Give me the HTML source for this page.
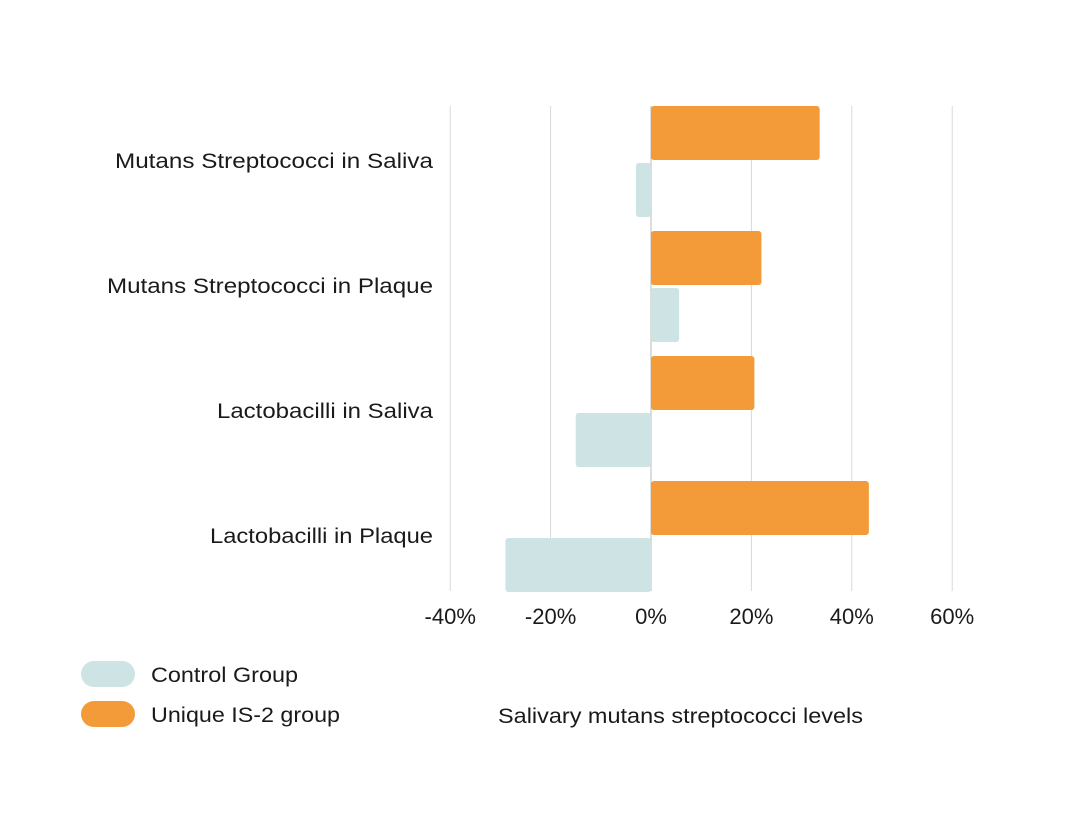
<!DOCTYPE html>
<html><head><meta charset="utf-8"><style>
html,body{margin:0;padding:0;background:#fff;}
svg text{font-family:"Liberation Sans",sans-serif;fill:#1a1a1a;}
</style></head><body>
<svg id="chart" width="1080" height="810" viewBox="0 0 1080 810" xmlns="http://www.w3.org/2000/svg">
<g id="grid"></g>
<g id="bars"></g>
<g id="ylabels"></g>
<g id="xlabels"></g>
<text x="498" y="723" font-size="21" textLength="365" lengthAdjust="spacingAndGlyphs">Salivary mutans streptococci levels</text>
<g>
  <rect x="81" y="661" width="54" height="26" rx="13" fill="#cde3e4"/>
  <text x="151" y="682" font-size="21" textLength="147" lengthAdjust="spacingAndGlyphs">Control Group</text>
  <rect x="81" y="701" width="54" height="26" rx="13" fill="#f29b38"/>
  <text x="151" y="722" font-size="21" textLength="189" lengthAdjust="spacingAndGlyphs">Unique IS-2 group</text>
</g>
</svg>
<script>
const categories = ["Mutans Streptococci in Saliva","Mutans Streptococci in Plaque","Lactobacilli in Saliva","Lactobacilli in Plaque"];
const labelWidths = [318,326,216,223];
const controlValues = [-3, 5.6, -15, -29];
const is2Values = [33.6, 22, 20.6, 43.4];
const ticks = [-40,-20,0,20,40,60];
const tickLabels = ["-40%","-20%","0%","20%","40%","60%"];

const NS="http://www.w3.org/2000/svg";
const x0=651, pxPer=5.02, plotTop=106, band=125;
function xs(v){return x0+v*pxPer;}
function mk(t,a,p){const e=document.createElementNS(NS,t);for(const k in a)e.setAttribute(k,a[k]);p.appendChild(e);return e;}
const grid=document.getElementById('grid'),bars=document.getElementById('bars'),yl=document.getElementById('ylabels'),xl=document.getElementById('xlabels');
ticks.forEach((t,i)=>{
  const l=mk('line',{x1:xs(t),x2:xs(t),y1:plotTop,y2:591,stroke:t===0?'#bbbbbb':'#d9d9d9','stroke-width':1},grid);
  
  
  const tx=mk('text',{x:xs(t),y:624,'font-size':22,'text-anchor':'middle'},xl);
  tx.textContent=tickLabels[i];
  
  
});
function bar(v,y,h,fill){
  const x=Math.min(xs(0),xs(v)),w=Math.abs(xs(v)-xs(0));
  return mk('rect',{x:x,y:y,width:w,height:h,rx:3,fill:fill},bars);
}
categories.forEach((c,i)=>{
  const y=plotTop+i*band;
  const o=bar(is2Values[i],y,54,'#f29b38');
  
  
  const b=bar(controlValues[i],y+57,54,'#cde3e4');
  
  
  const t=mk('text',{x:433,y:y+62,'font-size':21,'text-anchor':'end',textLength:labelWidths[i],lengthAdjust:'spacingAndGlyphs'},yl);
  t.textContent=c;
  
  
});
</script>
</body></html>
